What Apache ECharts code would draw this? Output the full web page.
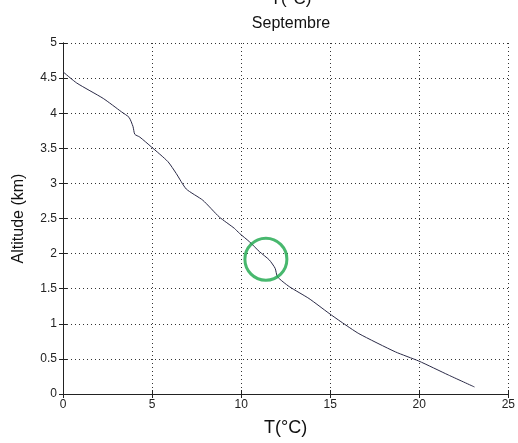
<!DOCTYPE html>
<html><head><meta charset="utf-8">
<script src="https://cdn.jsdelivr.net/npm/echarts@6/dist/echarts.min.js"></script>
<style>html,body{margin:0;padding:0;background:#fff}#c{width:518px;height:443px}</style>
</head><body><div id="c"></div>
<script>
const temperature = [0.0, 0.77, 2.26, 3.28, 3.71, 3.93, 4.03, 4.31, 4.96, 5.89, 6.36, 6.92, 7.85, 8.78, 9.62, 9.90, 10.46, 11.02, 11.58, 11.91, 12.04, 12.70, 13.81, 14.93, 15.60, 16.61, 18.66, 19.97, 21.64, 23.10];
const altitude    = [4.59, 4.43, 4.21, 4.02, 3.94, 3.81, 3.70, 3.66, 3.52, 3.31, 3.14, 2.92, 2.76, 2.52, 2.36, 2.29, 2.17, 2.03, 1.91, 1.79, 1.67, 1.53, 1.36, 1.15, 1.03, 0.86, 0.60, 0.47, 0.27, 0.10];
const circleMark = [[11.39, 1.92]];
const xTicks = [0, 5, 10, 15, 20, 25];
const yTicks = [0, 0.5, 1, 1.5, 2, 2.5, 3, 3.5, 4, 4.5, 5];
const titleTop = 'T(°C)';
const titleSub = 'Septembre';
const xName = 'T(°C)';
const yName = 'Altitude (km)';

const F = 'Liberation Sans, Arial, sans-serif';
const chart = echarts.init(document.getElementById('c'), null, {renderer: 'canvas'});
const axisLine = {show: true, lineStyle: {color: '#222', width: 1}};
const gridLine = {show: true, lineStyle: {color: '#333', type: [1, 3], width: 1}};
chart.setOption({
  backgroundColor: '#fff',
  animation: false,
  title: [
    {text: titleTop, left: 286, top: -14, textAlign: 'center', textStyle: {fontFamily: F, fontSize: 17, fontWeight: 'normal', color: '#111'}},
    {text: titleSub, left: 286, top: 11, textAlign: 'center', textStyle: {fontFamily: F, fontSize: 16, fontWeight: 'normal', color: '#111'}}
  ],
  grid: {left: 63, right: 8, top: 43, bottom: 49, containLabel: false},
  xAxis: [
    {type: 'value', min: 0, max: 25, interval: 5, position: 'bottom',
     name: xName, nameLocation: 'middle', nameGap: 25,
     nameTextStyle: {fontFamily: F, fontSize: 18, color: '#111'},
     axisLine: axisLine, axisTick: {show: true, inside: true, length: 4, lineStyle: {color: '#222'}},
     axisLabel: {fontFamily: F, fontSize: 12, color: '#222', margin: 5},
     splitLine: gridLine},
    {type: 'value', min: 0, max: 25, interval: 5, position: 'top',
     axisLine: axisLine, axisTick: {show: true, inside: true, length: 4, lineStyle: {color: '#222'}},
     axisLabel: {show: false}, splitLine: {show: false}}
  ],
  yAxis: [
    {type: 'value', min: 0, max: 5, interval: 0.5, position: 'left',
     name: yName, nameLocation: 'middle', nameGap: 36, nameRotate: 90,
     nameTextStyle: {fontFamily: F, fontSize: 16, color: '#111'},
     axisLine: axisLine, axisTick: {show: true, inside: true, length: 4, lineStyle: {color: '#222'}},
     axisLabel: {fontFamily: F, fontSize: 12, color: '#222', margin: 6},
     splitLine: gridLine},
    {type: 'value', min: 0, max: 5, interval: 0.5, position: 'right',
     axisLine: axisLine, axisTick: {show: true, inside: true, length: 4, lineStyle: {color: '#222'}},
     axisLabel: {show: false}, splitLine: {show: false}}
  ],
  series: [
    {type: 'line', data: temperature.map((t, i) => [t, altitude[i]]),
     showSymbol: false, smooth: 0.2, lineStyle: {color: '#2b2b48', width: 1}},
    {type: 'scatter', data: circleMark, symbol: 'circle', symbolSize: 42,
     itemStyle: {color: 'rgba(0,0,0,0)', borderColor: '#1aa64a', borderWidth: 3}, silent: true, z: 5}
  ]
});
</script></body></html>
